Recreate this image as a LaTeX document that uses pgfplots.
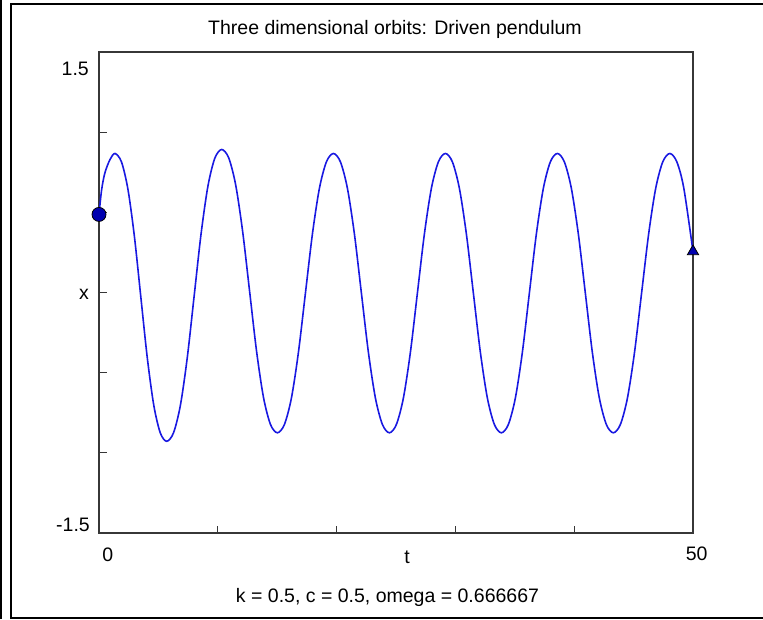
\documentclass[border=0pt]{standalone}
\usepackage{fontspec}
\setmainfont{Liberation Sans}
\usepackage{pgfplots}
\pgfplotsset{compat=1.18}
\definecolor{curveblue}{RGB}{25,25,225}
\definecolor{markblue}{RGB}{0,0,175}
\definecolor{axisgray}{RGB}{55,55,55}
\begin{document}
\begin{tikzpicture}[x=1pt,y=1pt]
\useasboundingbox (0,0) rectangle (763,619);
\fontsize{19.5}{23}\selectfont
% window frame
\draw[line width=2pt] (1,0) -- (1,619);
\draw[line width=1.8pt] (763,614.8) -- (11,614.8) -- (11,1.3) -- (763,1.3);
\begin{axis}[
  at={(99pt,86pt)}, anchor=south west,
  scale only axis, width=594pt, height=481pt,
  xmin=0, xmax=50, ymin=-1.5, ymax=1.5,
  xtick={10,20,30,40}, ytick={-1,-0.5,0,0.5,1},
  xticklabels={}, yticklabels={},
  tick align=inside, xtick pos=left, ytick pos=left,
  major tick length=7.5pt,
  axis line style={axisgray, line width=1.8pt},
  major tick style={axisgray, line width=1.3pt},
  clip=false,
]
\addplot[curveblue, line width=1.6pt, smooth] coordinates {
(0,0.487) (0.22,0.64) (0.5,0.747) (0.93,0.83) (1.35,0.867)
(1.894,0.814) (2.438,0.643) (2.981,0.349) (3.525,-0.031) (4.069,-0.410) (4.613,-0.704) (5.156,-0.875) (5.70,-0.928)
(6.279,-0.874) (6.858,-0.701) (7.436,-0.403) (8.015,-0.018) (8.594,0.367) (9.173,0.665) (9.751,0.838) (10.33,0.892)
(10.916,0.840) (11.503,0.672) (12.089,0.382) (12.675,0.009) (13.261,-0.365) (13.848,-0.655) (14.434,-0.823) (15.02,-0.875)
(15.609,-0.823) (16.198,-0.658) (16.787,-0.373) (17.376,-0.004) (17.965,0.365) (18.554,0.650) (19.143,0.815) (19.732,0.867)
(20.321,0.815) (20.910,0.650) (21.499,0.365) (22.088,-0.004) (22.677,-0.373) (23.266,-0.658) (23.855,-0.823) (24.445,-0.875)
(25.034,-0.823) (25.623,-0.658) (26.212,-0.373) (26.801,-0.004) (27.390,0.365) (27.979,0.650) (28.568,0.815) (29.157,0.867)
(29.746,0.815) (30.335,0.650) (30.924,0.365) (31.513,-0.004) (32.102,-0.373) (32.691,-0.658) (33.280,-0.823) (33.870,-0.875)
(34.459,-0.823) (35.048,-0.658) (35.637,-0.373) (36.226,-0.004) (36.815,0.365) (37.404,0.650) (37.993,0.815) (38.582,0.867)
(39.171,0.815) (39.760,0.650) (40.349,0.365) (40.938,-0.004) (41.527,-0.373) (42.116,-0.658) (42.705,-0.823) (43.294,-0.875)
(43.889,-0.823) (44.483,-0.658) (45.078,-0.373) (45.672,-0.004) (46.267,0.365) (46.861,0.650) (47.456,0.815) (48.05,0.867)
(48.639,0.815) (49.228,0.650) (50,0.256)
};
% initial and final states
\addplot[only marks, mark=*, mark size=7pt,
  mark options={fill=markblue, draw=black, line width=0.8pt}] coordinates {(0,0.487)};
\addplot[only marks, mark=triangle*, mark size=6.5pt,
  mark options={fill=markblue, draw=black, line width=0.8pt}] coordinates {(50,0.256)};
\end{axis}
\node[anchor=base] at (395,584) {Three dimensional orbits: Driven pendulum};
\node[anchor=base] at (387.5,16.5) {k = 0.5, c = 0.5, omega = 0.666667};
\node[anchor=base] at (407,56) {t};
\node[anchor=base] at (107.7,58) {0};
\node[anchor=base] at (696.7,58.5) {50};
\node[anchor=base east, inner sep=0pt] at (89,543) {1.5};
\node[anchor=base east, inner sep=0pt] at (90,87.5) {-1.5};
\node[anchor=base] at (84,319.7) {x};
\end{tikzpicture}
\end{document}
